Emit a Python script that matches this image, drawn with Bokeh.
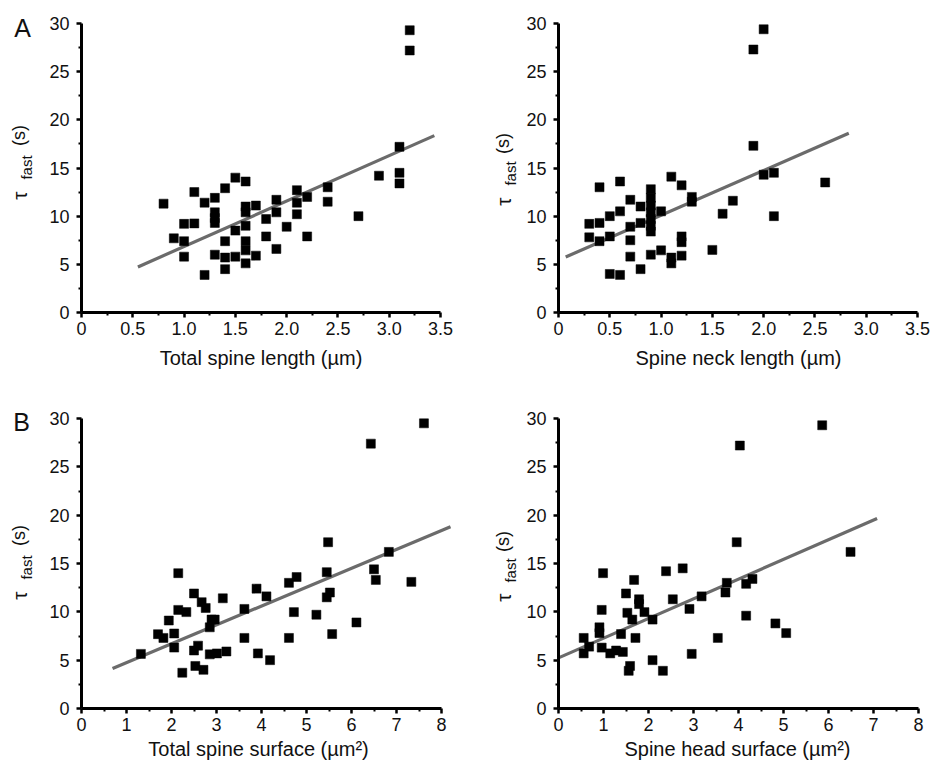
from bokeh.plotting import figure
from bokeh.models import Label, FixedTicker, CustomJSTickFormatter, Range1d
from bokeh.layouts import row, column
from bokeh.embed import file_html
from bokeh.resources import INLINE

# ---------------- data ----------------
# A, left: total spine length (um) vs tau_fast (s)
a1_x = [0.8, 0.9, 1.0, 1.0, 1.0, 1.1, 1.1, 1.2, 1.2, 1.3, 1.3, 1.3, 1.3, 1.3,
        1.4, 1.4, 1.4, 1.4, 1.5, 1.5, 1.5, 1.6, 1.6, 1.6, 1.6, 1.6, 1.6, 1.6,
        1.7, 1.7, 1.8, 1.8, 1.9, 1.9, 1.9, 2.0, 2.1, 2.1, 2.1, 2.2, 2.2, 2.4,
        2.4, 2.7, 2.9, 3.1, 3.1, 3.1, 3.2, 3.2]
a1_y = [11.3, 7.7, 9.2, 7.4, 5.8, 9.25, 12.5, 11.4, 3.9, 11.9, 10.4, 9.8, 9.3, 6.0,
        12.9, 7.4, 5.7, 4.5, 14.0, 8.5, 5.8, 13.6, 11.0, 10.4, 9.0, 7.4, 6.45, 5.1,
        11.1, 5.9, 9.7, 7.9, 11.7, 10.4, 6.6, 8.9, 12.7, 11.4, 10.2, 12.0, 7.9, 13.0,
        11.5, 10.0, 14.2, 17.2, 14.5, 13.4, 29.3, 27.2]
a1_fit_x = [0.55, 3.44]
a1_fit_y = [4.73, 18.36]

# A, right: spine neck length (um)
a2_x = [0.3, 0.3, 0.4, 0.4, 0.4, 0.5, 0.5, 0.5, 0.6, 0.6, 0.6, 0.7, 0.7, 0.7, 0.7,
        0.8, 0.8, 0.8, 0.9, 0.9, 0.9, 0.9, 0.9, 0.9, 0.9, 0.9, 1.0, 1.0, 1.1, 1.1,
        1.1, 1.2, 1.2, 1.2, 1.2, 1.3, 1.3, 1.5, 1.6, 1.7, 1.9, 1.9, 2.0, 2.0, 2.1,
        2.1, 2.6]
a2_y = [9.2, 7.8, 13.0, 9.3, 7.4, 10.0, 7.9, 4.0, 13.6, 10.5, 3.9, 11.7, 8.9, 7.5, 5.8,
        11.0, 9.3, 4.5, 12.8, 11.9, 11.1, 10.4, 9.7, 9.0, 8.4, 6.0, 10.5, 6.45, 14.1, 5.7,
        5.1, 13.2, 7.9, 7.3, 5.9, 12.0, 11.5, 6.5, 10.25, 11.6, 27.3, 17.3, 29.4, 14.3, 14.5,
        10.0, 13.5]
a2_fit_x = [0.07, 2.83]
a2_fit_y = [5.76, 18.6]

# B, left: total spine surface (um^2)
b1_x = [1.32, 1.70, 1.82, 1.94, 2.06, 2.06, 2.15, 2.15, 2.24, 2.33,
        2.50, 2.50, 2.53, 2.59, 2.67, 2.71, 2.76, 2.85, 2.89, 2.96,
        2.85, 3.01, 3.14, 3.22, 3.62, 3.62, 3.89, 3.92, 4.11, 4.19,
        4.61, 4.61, 4.72, 4.78, 5.22, 5.45, 5.45, 5.48, 5.52, 5.57,
        6.11, 6.43, 6.50, 6.54, 6.83, 7.33, 7.61]
b1_y = [5.65, 7.69, 7.3, 9.1, 7.76, 6.3, 14.0, 10.2, 3.7, 9.97,
        11.9, 6.0, 4.4, 6.5, 11.0, 4.0, 10.4, 8.4, 9.2, 9.2,
        5.6, 5.7, 11.4, 5.9, 10.3, 7.3, 12.4, 5.7, 11.6, 5.0,
        13.0, 7.3, 9.97, 13.6, 9.7, 14.1, 11.5, 17.2, 12.0, 7.7,
        8.9, 27.4, 14.4, 13.3, 16.2, 13.1, 29.5]
b1_fit_x = [0.69, 8.2]
b1_fit_y = [4.14, 18.8]

# B, right: spine head surface (um^2)
b2_x = [0.56, 0.56, 0.68, 0.91, 0.91, 0.96, 0.99, 0.96, 1.15, 1.28,
        1.43, 1.39, 1.5, 1.53, 1.56, 1.59, 1.64, 1.68, 1.71, 1.79,
        1.79, 1.91, 2.09, 2.09, 2.32, 2.39, 2.54, 2.76, 2.91, 2.96,
        3.18, 3.54, 3.71, 3.74, 3.96, 4.03, 4.17, 4.31, 4.17, 4.82,
        5.06, 5.86, 6.49]
b2_y = [7.3, 5.7, 6.4, 8.4, 7.8, 10.2, 14.0, 6.3, 5.7, 6.0,
        5.85, 7.7, 11.9, 9.9, 3.9, 4.4, 9.2, 13.3, 7.3, 11.3,
        10.8, 9.97, 9.2, 5.0, 3.9, 14.2, 11.3, 14.5, 10.3, 5.65,
        11.6, 7.3, 12.0, 13.0, 17.2, 27.2, 12.9, 13.4, 9.6, 8.8,
        7.8, 29.3, 16.2]
b2_fit_x = [0.0, 7.08]
b2_fit_y = [5.24, 19.66]

# ticks
y_ticks = [0, 5, 10, 15, 20, 25, 30]
y_minor = [2.5, 7.5, 12.5, 17.5, 22.5, 27.5]
a_x_ticks = [0, 0.5, 1.0, 1.5, 2.0, 2.5, 3.0, 3.5]
a_x_tick_labels = ["0", "0.5", "1.0", "1.5", "2.0", "2.5", "3.0", "3.5"]
a_x_minor = [0.25, 0.75, 1.25, 1.75, 2.25, 2.75, 3.25]
b_x_ticks = [0, 1, 2, 3, 4, 5, 6, 7, 8]
b_x_tick_labels = ["0", "1", "2", "3", "4", "5", "6", "7", "8"]
b_x_minor = [0.5, 1.5, 2.5, 3.5, 4.5, 5.5, 6.5, 7.5]

x_titles = ["Total spine length (\u00b5m)", "Spine neck length (\u00b5m)",
            "Total spine surface (\u00b5m\u00b2)", "Spine head surface (\u00b5m\u00b2)"]
y_title_parts = ["\u03c4", "fast", "(s)"]
panel_letters = ["A", "B"]

FONT = "Liberation Sans"
TXT = "#111111"


class Panel:
    """A figure whose frame fills the whole canvas; the axes are pinned at 0."""

    def __init__(self, box, xmap, ymap, xbounds, xticks, xlabels, xminor):
        left, top, w, h = box
        (self.x0, self.X0), (x1, X1) = xmap      # (data value, page pixel)
        (self.y0, self.Y0), (y1, Y1) = ymap
        self.kx = (x1 - self.x0) / (X1 - self.X0)
        self.ky = (y1 - self.y0) / (self.Y0 - Y1)
        xs, yt = self.to_data(left, top)
        xe, yb = self.to_data(left + w, top + h)
        p = figure(width=w, height=h, x_range=Range1d(xs, xe), y_range=Range1d(yb, yt),
                   output_backend="svg", toolbar_location=None, min_border=0)
        p.outline_line_color = None
        p.grid.visible = False
        p.background_fill_color = "white"
        p.border_fill_color = "white"

        p.xaxis.ticker = FixedTicker(ticks=xticks, minor_ticks=xminor)
        p.xaxis.formatter = CustomJSTickFormatter(
            args=dict(vals=xticks, labs=xlabels),
            code="const i = vals.findIndex(v => Math.abs(v - tick) < 1e-9); "
                 "return i >= 0 ? labs[i] : String(tick);")
        p.xaxis.bounds = xbounds
        p.xaxis.fixed_location = 0
        p.yaxis.ticker = FixedTicker(ticks=y_ticks, minor_ticks=y_minor)
        p.yaxis.bounds = (0, 30)
        p.yaxis.fixed_location = 0
        for ax in (p.xaxis, p.yaxis):
            ax.axis_line_width = 3
            ax.axis_line_color = "black"
            ax.major_tick_line_width = 2.5
            ax.minor_tick_line_width = 2.0
            ax.major_tick_line_color = "black"
            ax.minor_tick_line_color = "black"
            ax.major_tick_out = 5
            ax.major_tick_in = 0
            ax.minor_tick_out = 3
            ax.minor_tick_in = 0
            ax.major_label_text_font = FONT
            ax.major_label_text_font_size = "18px"
            ax.major_label_text_color = TXT
        p.xaxis.major_label_standoff = 4
        p.yaxis.major_label_standoff = 7
        self.p = p

    def to_data(self, px, py):
        return self.x0 + (px - self.X0) * self.kx, self.y0 + (self.Y0 - py) * self.ky

    def text(self, px, py, text, size, angle=0):
        x, y = self.to_data(px, py)
        self.p.add_layout(Label(x=x, y=y, text=text, text_font=FONT,
                                text_font_size=size, text_color=TXT,
                                text_align="center", text_baseline="middle",
                                angle=angle, angle_units="deg"))

    def ylabel(self, cx, tau_y, fast_y, s_y):
        # tau with subscript "fast", then "(s)", reading bottom-to-top
        self.text(cx, tau_y, y_title_parts[0], "21px", 90)
        self.text(cx + 7, fast_y, y_title_parts[1], "15px", 90)
        self.text(cx - 1, s_y, y_title_parts[2], "18px", 90)

    def draw(self, xs, ys, fx, fy):
        self.p.line(fx, fy, line_color="#6b6b6b", line_width=3.2)
        self.p.scatter(xs, ys, marker="square", size=9, fill_color="black",
                       line_color="black", line_width=0.5)


A1 = Panel((0, 0, 466, 385), ((0, 81), (3.5, 440)), ((0, 312), (30, 23)),
           (0, 3.5), a_x_ticks, a_x_tick_labels, a_x_minor)
A2 = Panel((466, 0, 466, 385), ((0, 558), (3.5, 917)), ((0, 312), (30, 23)),
           (0, 3.5), a_x_ticks, a_x_tick_labels, a_x_minor)
B1 = Panel((0, 385, 466, 384), ((0, 81), (8, 441)), ((0, 708), (30, 418)),
           (0, 8), b_x_ticks, b_x_tick_labels, b_x_minor)
B2 = Panel((466, 385, 466, 384), ((0, 558), (8, 918)), ((0, 708), (30, 418)),
           (0, 8), b_x_ticks, b_x_tick_labels, b_x_minor)

A1.draw(a1_x, a1_y, a1_fit_x, a1_fit_y)
A2.draw(a2_x, a2_y, a2_fit_x, a2_fit_y)
B1.draw(b1_x, b1_y, b1_fit_x, b1_fit_y)
B2.draw(b2_x, b2_y, b2_fit_x, b2_fit_y)

A1.text(260.5, 357, x_titles[0], "20px")
A2.text(738, 357, x_titles[1], "20px")
B1.text(258, 748, x_titles[2], "20px")
B2.text(737, 748, x_titles[3], "20px")

A1.ylabel(19, 195, 167, 135)
A2.ylabel(503, 201, 173, 143)
B1.ylabel(19, 595, 567, 535)
B2.ylabel(503, 597, 570, 541)

A1.text(22, 27, panel_letters[0], "25px")
B1.text(21, 421, panel_letters[1], "25px")

layout = column(row(A1.p, A2.p), row(B1.p, B2.p))
open("out.html", "w").write(file_html(layout, INLINE))
